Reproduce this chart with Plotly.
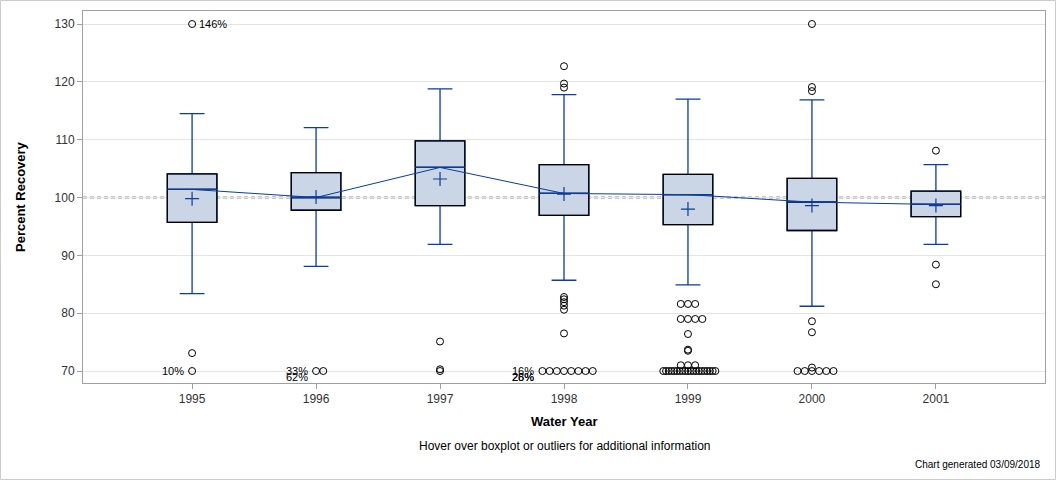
import plotly.graph_objects as go
from collections import Counter

# ---------------- data ----------------
years = ["1995", "1996", "1997", "1998", "1999", "2000", "2001"]
q1 = [95.7, 97.8, 98.6, 96.9, 95.3, 94.3, 96.7]
median = [101.4, 100.0, 105.2, 100.7, 100.5, 99.2, 98.8]
q3 = [104.1, 104.3, 109.8, 105.7, 104.0, 103.3, 101.1]
lower_whisker = [83.4, 88.1, 91.9, 85.7, 84.9, 81.2, 91.9]
upper_whisker = [114.5, 112.1, 118.8, 117.8, 117.0, 116.9, 105.7]
mean = [99.8, 100.1, 103.2, 100.6, 98.0, 98.6, 98.6]

outliers_1995 = [130.0, 73.1, 70.0]
outliers_1996 = [70.0, 70.0]
outliers_1997 = [75.1, 70.3, 70.0]
outliers_1998 = [122.7, 119.7, 119.0, 82.8, 82.4, 81.9, 81.3, 80.6, 76.5] + [70.0] * 8
outliers_1999 = [81.6] * 3 + [79.0] * 4 + [76.4, 73.7, 73.5] + [71.0] * 3 + [70.0] * 20
outliers_2000 = [130.0, 119.1, 118.4, 78.6, 76.7, 70.6] + [70.0] * 6
outliers_2001 = [108.1, 88.4, 85.0]
outliers = [outliers_1995, outliers_1996, outliers_1997, outliers_1998,
            outliers_1999, outliers_2000, outliers_2001]

label_year = ["1995", "1995", "1996", "1996", "1998", "1998", "1998"]
label_value = [130.0, 70.0, 70.0, 70.0, 70.0, 70.0, 70.0]
label_text = ["146%", "10%", "33%", "62%", "16%", "28%", "26%"]

reference_value = 100.0

# ---------------- style ----------------
BLUE = "#0b3c9e"
FILL = "#cad5e5"
FONT = "Liberation Sans, Arial, sans-serif"
W, H = 1056, 480
ML, MR, MT, MB = 83, 11, 11, 97
PW, PH = W - ML - MR, H - MT - MB

xs = list(range(len(years)))

fig = go.Figure()

# whiskers + blue box (underneath)
fig.add_trace(go.Box(
    x=xs, q1=q1, median=median, q3=q3,
    lowerfence=lower_whisker, upperfence=upper_whisker,
    width=0.4, whiskerwidth=0.5, fillcolor=FILL,
    line=dict(color=BLUE, width=1.3), boxpoints=False,
    hoverinfo="skip", showlegend=False))
# black box outline on top
fig.add_trace(go.Box(
    x=xs, q1=q1, median=median, q3=q3,
    lowerfence=q1, upperfence=q3,
    width=0.4, whiskerwidth=0, fillcolor="rgba(0,0,0,0)",
    line=dict(color="black", width=1.3), boxpoints=False,
    hoverinfo="skip", showlegend=False))

# blue median segments
mx, my = [], []
for i, m in enumerate(median):
    mx += [i - 0.2, i + 0.2, None]
    my += [m, m, None]
fig.add_trace(go.Scatter(x=mx, y=my, mode="lines",
                         line=dict(color=BLUE, width=1.3),
                         hoverinfo="skip", showlegend=False))

# line connecting medians
fig.add_trace(go.Scatter(x=xs, y=median, mode="lines",
                         line=dict(color=BLUE, width=1),
                         hoverinfo="skip", showlegend=False))

# mean markers
fig.add_trace(go.Scatter(x=xs, y=mean, mode="markers",
                         marker=dict(symbol="cross-thin-open", size=10, color=BLUE,
                                     line=dict(color=BLUE, width=1.2)),
                         showlegend=False))

# outliers, identical values spread sideways
ox, oy = [], []
leftmost = {}
for i, vals in enumerate(outliers):
    counts = Counter(vals)
    for v, n in counts.items():
        step = min(0.058, 0.42 / (n - 1)) if n > 1 else 0
        for k in range(n):
            off = (k - (n - 1) // 2) * step
            ox.append(i + off)
            oy.append(v)
            key = (i, v)
            leftmost[key] = min(leftmost.get(key, 99), i + off)
fig.add_trace(go.Scatter(x=ox, y=oy, mode="markers",
                         marker=dict(symbol="circle-open", size=7, color="black",
                                     line=dict(color="black", width=1)),
                         showlegend=False))

# outlier labels
seen = Counter()
for yr, v, t in zip(label_year, label_value, label_text):
    i = years.index(yr)
    if v >= 100:
        fig.add_annotation(x=i, y=v, xref="x", yref="y", text=t,
                           showarrow=False, xanchor="left", xshift=5,
                           font=dict(family=FONT, size=11, color="black"))
    else:
        n = seen[(i, v)]
        seen[(i, v)] += 1
        fig.add_annotation(x=leftmost[(i, v)], y=v, xref="x", yref="y", text=t,
                           showarrow=False, xanchor="right", xshift=-6,
                           yshift=0 if n == 0 else -6,
                           font=dict(family=FONT, size=11, color="black"))

# reference line
fig.add_shape(type="line", xref="paper", yref="y", x0=0, x1=1,
              y0=reference_value, y1=reference_value, layer="below",
              line=dict(color="#8f8f8f", width=2, dash="4px,3px"))

# outer border
fig.add_shape(type="rect", xref="paper", yref="paper",
              x0=(0.5 - ML) / PW, x1=(W - 0.5 - ML) / PW,
              y0=-(MB - 0.5) / PH, y1=(PH + MT - 0.5) / PH,
              line=dict(color="#cccccc", width=1))

# texts
fig.add_annotation(xref="paper", yref="paper", x=0.5, y=-(422 - (H - MB)) / PH,
                   text="<b>Water Year</b>", showarrow=False, yanchor="middle",
                   font=dict(family=FONT, size=13, color="black"))
fig.add_annotation(xref="paper", yref="paper", x=(20 - ML) / PW, y=0.5,
                   text="<b>Percent Recovery</b>", showarrow=False, textangle=-90,
                   xanchor="center", yanchor="middle",
                   font=dict(family=FONT, size=13, color="black"))
fig.add_annotation(xref="paper", yref="paper", x=0.5, y=-(446 - (H - MB)) / PH,
                   text="Hover over boxplot or outliers for additional information",
                   showarrow=False, yanchor="middle",
                   font=dict(family=FONT, size=12, color="black"))
fig.add_annotation(xref="paper", yref="paper", x=(1043 - ML) / PW, y=-(464 - (H - MB)) / PH,
                   text="Chart generated 03/09/2018", showarrow=False,
                   xanchor="right", yanchor="middle",
                   font=dict(family=FONT, size=10, color="black"))

fig.update_layout(
    width=W, height=H,
    margin=dict(l=ML, r=MR, t=MT, b=MB),
    paper_bgcolor="white", plot_bgcolor="white",
    boxmode="overlay", showlegend=False,
    font=dict(family=FONT, size=12, color="#333333"),
    xaxis=dict(range=[-0.88, 6.88], tickvals=xs, ticktext=years,
               showgrid=False, zeroline=False, showline=True, mirror=True,
               linecolor="#a0a0a0", linewidth=1, ticks="outside", ticklen=5,
               tickcolor="#a0a0a0", tickfont=dict(size=12, color="#333333")),
    yaxis=dict(range=[67.93, 132.25], tickvals=[70, 80, 90, 100, 110, 120, 130],
               ticksuffix="%", showgrid=True, gridcolor="#e4e4e4", zeroline=False,
               showline=True, mirror=True, linecolor="#a0a0a0", linewidth=1,
               ticks="outside", ticklen=5, tickcolor="#a0a0a0",
               tickfont=dict(size=12, color="#333333")),
)

fig.write_html("out.html", config={"displayModeBar": False},
               post_script="document.body.style.margin='0';")
